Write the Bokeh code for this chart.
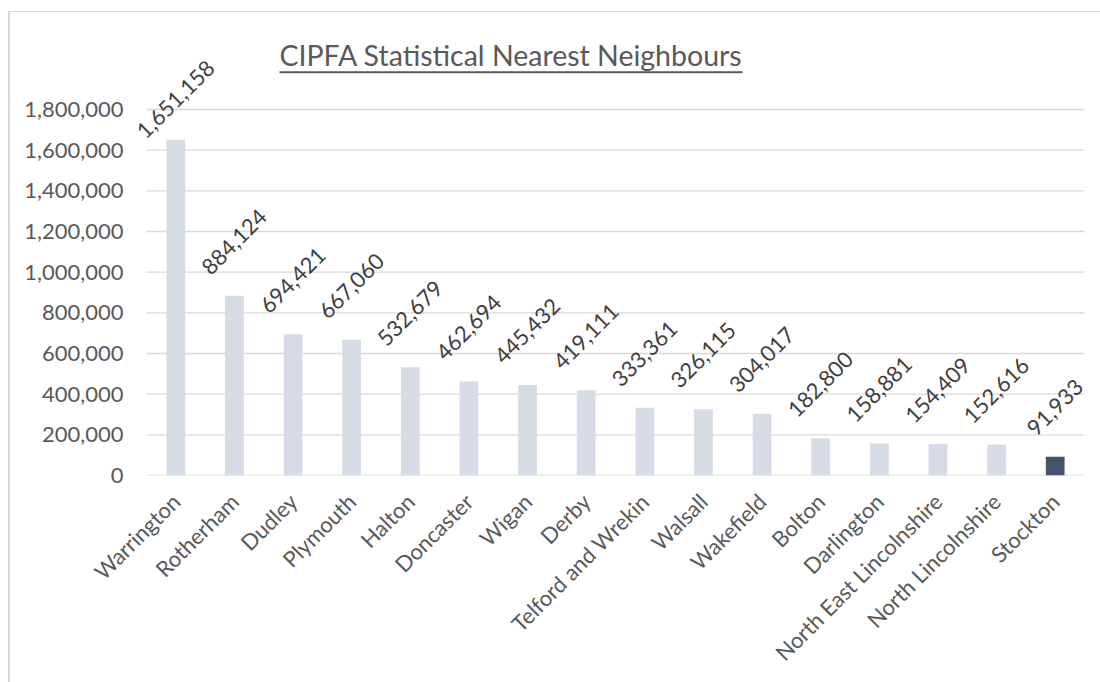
import math
from bokeh.plotting import figure
from bokeh.models import (FactorRange, Range1d, FixedTicker, NumeralTickFormatter,
                          ColumnDataSource, Label, LabelSet)
from bokeh.core.properties import value
from bokeh.embed import file_html
from bokeh.resources import INLINE

# ---------------- data ----------------
categories = ["Warrington", "Rotherham", "Dudley", "Plymouth", "Halton", "Doncaster",
              "Wigan", "Derby", "Telford and Wrekin", "Walsall", "Wakefield", "Bolton",
              "Darlington", "North East Lincolnshire", "North Lincolnshire", "Stockton"]
values = [1651158, 884124, 694421, 667060, 532679, 462694, 445432, 419111,
          333361, 326115, 304017, 182800, 158881, 154409, 152616, 91933]
y_ticks = [0, 200000, 400000, 600000, 800000, 1000000, 1200000, 1400000, 1600000, 1800000]
highlight = "Stockton"
title_text = "CIPFA Statistical Nearest Neighbours"

# ---------------- layout ----------------
FONT = "Lato"
W, H = 1100, 682
PLOT_L, PLOT_R = 146, 1084        # extent of the category area / gridlines
N = len(categories)
CAT_W = (PLOT_R - PLOT_L) / N
PAD_PX = 14
PAD = PAD_PX / CAT_W
BL, BR, BT, BB = PLOT_L - PAD_PX, W - PLOT_R - PAD_PX, 0, 207
frame_h = H - BT - BB
PX_PER_UNIT = 366 / 1800000.0
y_end = frame_h / PX_PER_UNIT
ZERO_PY = BT + frame_h          # canvas y of the zero line


def py_to_y(py):
    return (ZERO_PY - py) / PX_PER_UNIT


def px_to_x(px):
    return (px - PLOT_L) / CAT_W


LIGHT = "#D6DCE5"
DARK = "#44546A"
GRID = "#D9D9D9"
TXT = "#595959"
LBL = "#404040"
FS = 22

x_range = FactorRange(*categories, range_padding=PAD, range_padding_units="absolute")
p = figure(x_range=x_range, y_range=Range1d(0, y_end),
           width=W, height=H, output_backend="svg", toolbar_location=None,
           min_border_left=BL, min_border_right=BR, min_border_top=BT, min_border_bottom=BB,
           title=None)
p.outline_line_color = None
p.background_fill_alpha = 0
p.border_fill_alpha = 0
p.styles = {
    "background": (f"linear-gradient({GRID},{GRID}) 8px 11px / 100% 1px no-repeat, "
                   f"linear-gradient({GRID},{GRID}) 8px 11px / 2px 100% no-repeat"),
}

colors = [DARK if c == highlight else LIGHT for c in categories]

# horizontal gridlines across the category area only
p.segment(x0=[0] * len(y_ticks), x1=[N] * len(y_ticks), y0=y_ticks, y1=y_ticks,
          line_color=GRID, line_width=1.3)


# data label positions: rotated label box centred above each bar
def label_width(s):
    return sum(0.24 if ch == "," else 0.58 for ch in s) * FS


labels = [f"{v:,}" for v in values]
label_y = []
for v, s in zip(values, labels):
    half = 0.3535 * (label_width(s) + FS)
    off = 17 + half
    top_py = ZERO_PY - v * PX_PER_UNIT
    cy = max(top_py - off, 56 + half)
    label_y.append(py_to_y(cy))

src = ColumnDataSource(dict(cat=categories, val=values, color=colors,
                            lab=labels, ly=label_y))

p.vbar(x="cat", top="val", width=0.32, color="color", source=src, line_color=None)

p.add_layout(LabelSet(x="cat", y="ly", text="lab", source=src, angle=math.pi / 4,
                      text_align="center", text_baseline="middle",
                      text_font=value(FONT), text_font_size=value(f"{FS}px"),
                      text_color=LBL))

# title with underline
p.add_layout(Label(x=px_to_x(510.5), y=py_to_y(54), text=title_text,
                   text_align="center", text_baseline="alphabetic",
                   text_font=FONT, text_font_size="28.5px", text_color=TXT))
p.segment(x0=[px_to_x(279)], y0=[py_to_y(71.7)], x1=[px_to_x(742)], y1=[py_to_y(71.7)],
          line_color=TXT, line_width=2)

# axes
p.yaxis.ticker = FixedTicker(ticks=y_ticks)
p.yaxis.formatter = NumeralTickFormatter(format="0,0")
p.yaxis.axis_line_color = None
p.yaxis.major_tick_line_color = None
p.yaxis.minor_tick_line_color = None
p.yaxis.major_tick_out = 0
p.yaxis.major_label_standoff = 23 - PAD_PX
p.yaxis.major_label_text_font = FONT
p.yaxis.major_label_text_font_size = f"{FS}px"
p.yaxis.major_label_text_color = TXT

p.xaxis.axis_line_color = None
p.xaxis.major_tick_line_color = None
p.xaxis.minor_tick_line_color = None
p.xaxis.major_tick_out = 0
p.xaxis.major_label_standoff = 22
p.xaxis.major_label_orientation = math.pi / 4
p.xaxis.major_label_text_font = FONT
p.xaxis.major_label_text_font_size = f"{FS}px"
p.xaxis.major_label_text_color = TXT

p.xgrid.grid_line_color = None
p.ygrid.grid_line_color = None

open("out.html", "w").write(file_html(p, INLINE))
